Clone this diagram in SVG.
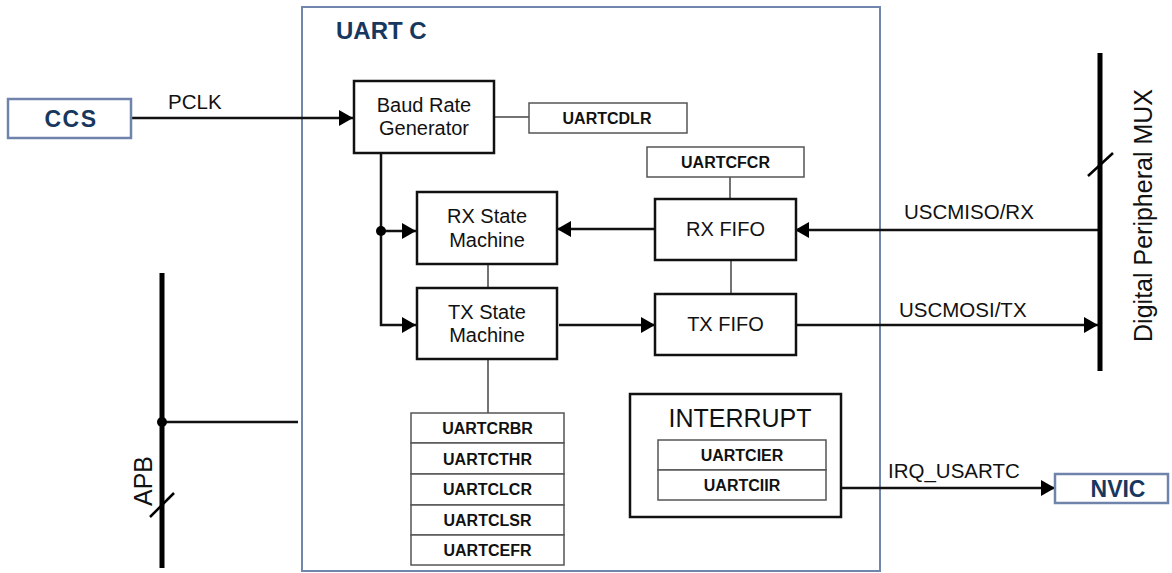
<svg xmlns="http://www.w3.org/2000/svg" width="1172" height="573" viewBox="0 0 1172 573">
<style>
.lbl{font-family:"Liberation Sans",Arial,sans-serif;font-size:20px;fill:#111}
.elb{font-family:"Liberation Sans",Arial,sans-serif;font-size:20.5px;fill:#111}
.big{font-family:"Liberation Sans",Arial,sans-serif;font-size:25px;fill:#111}
.reg{font-family:"Liberation Sans",Arial,sans-serif;font-size:16px;font-weight:bold;fill:#111}
.ext{font-family:"Liberation Sans",Arial,sans-serif;font-size:23px;font-weight:bold;fill:#17375e}
.blk{fill:#fff;stroke:#111;stroke-width:2.5}
.rbox{fill:#fff;stroke:#555;stroke-width:1.5}
.eb{fill:#fff;stroke:#6f83ab;stroke-width:2.5}
.w{fill:none;stroke:#111;stroke-width:2.5}
.thin{fill:none;stroke:#444;stroke-width:1.5}
.bus{fill:none;stroke:#000;stroke-width:5}
</style>
<defs>
<marker id="ah" markerUnits="userSpaceOnUse" markerWidth="15" markerHeight="16" refX="14" refY="8" orient="auto">
<path d="M0,0 L14,8 L0,16 z" fill="#000"/>
</marker>
</defs>
<rect width="1172" height="573" fill="#fff"/>

<g id="uartc">
<rect x="302" y="7" width="578" height="564" fill="none" stroke="#7186ad" stroke-width="2"/>
<text x="336" y="39" class="ext" style="font-size:24px">UART C</text>
</g>

<g id="connectors">
<line x1="131" y1="118" x2="353" y2="118" class="w" marker-end="url(#ah)"/>
<path d="M381,153 V325 H416" class="w" marker-end="url(#ah)"/>
<line x1="381" y1="231" x2="416" y2="231" class="w" marker-end="url(#ah)"/>
<circle cx="381" cy="231" r="5" fill="#000"/>
<line x1="655" y1="229" x2="557" y2="229" class="w" marker-end="url(#ah)"/>
<line x1="559" y1="325" x2="655" y2="325" class="w" marker-end="url(#ah)"/>
<line x1="1100" y1="230" x2="795" y2="230" class="w" marker-end="url(#ah)"/>
<line x1="795" y1="325" x2="1098" y2="325" class="w" marker-end="url(#ah)"/>
<line x1="841" y1="488" x2="1055" y2="488" class="w" marker-end="url(#ah)"/>
<line x1="494" y1="117" x2="529" y2="117" class="thin"/>
<line x1="730" y1="177" x2="730" y2="199" class="thin"/>
<line x1="731" y1="260" x2="731" y2="294" class="thin"/>
<line x1="488" y1="264" x2="488" y2="288" class="thin"/>
<line x1="488" y1="359" x2="488" y2="413" class="thin"/>
<line x1="162" y1="422" x2="298" y2="422" class="w" stroke-width="3"/>
<circle cx="162" cy="422" r="5" fill="#000"/>
<text x="168" y="109" class="elb">PCLK</text>
<text x="904" y="219" class="elb">USCMISO/RX</text>
<text x="899" y="317" class="elb">USCMOSI/TX</text>
<text x="888" y="478" class="elb">IRQ_USARTC</text>
</g>

<g id="ccs">
<rect x="8" y="99" width="123" height="39" class="eb"/>
<text x="71" y="127" class="ext" text-anchor="middle" letter-spacing="1.5">CCS</text>
</g>

<g id="nvic">
<rect x="1055" y="474" width="113" height="29" class="eb"/>
<text x="1118" y="497" class="ext" text-anchor="middle">NVIC</text>
</g>

<g id="mux">
<line x1="1100" y1="53" x2="1100" y2="371" class="bus"/>
<line x1="1088" y1="176" x2="1113" y2="153" stroke="#000" stroke-width="2.5"/>
<text transform="translate(1152,215.5) rotate(-90)" class="big" text-anchor="middle">Digital Peripheral MUX</text>
</g>

<g id="apb">
<line x1="162" y1="273" x2="162" y2="568" class="bus"/>
<line x1="150" y1="517" x2="174" y2="493" stroke="#000" stroke-width="2.5"/>
<text transform="translate(152,481) rotate(-90)" class="big" text-anchor="middle">APB</text>
</g>

<g id="baud">
<rect x="354" y="81" width="140" height="72" class="blk"/>
<text x="424" y="112" class="lbl" text-anchor="middle">Baud Rate</text>
<text x="424" y="135" class="lbl" text-anchor="middle">Generator</text>
</g>

<g id="uartcdlr">
<rect x="529" y="103" width="158" height="30" class="rbox"/>
<text x="607" y="124" class="reg" text-anchor="middle">UARTCDLR</text>
</g>

<g id="uartcfcr">
<rect x="647" y="147" width="157" height="30" class="rbox"/>
<text x="725.5" y="168" class="reg" text-anchor="middle">UARTCFCR</text>
</g>

<g id="rxsm">
<rect x="417" y="192" width="140" height="72" class="blk"/>
<text x="487" y="223" class="lbl" text-anchor="middle">RX State</text>
<text x="487" y="247" class="lbl" text-anchor="middle">Machine</text>
</g>

<g id="txsm">
<rect x="417" y="288" width="140" height="71" class="blk"/>
<text x="487" y="319" class="lbl" text-anchor="middle">TX State</text>
<text x="487" y="342" class="lbl" text-anchor="middle">Machine</text>
</g>

<g id="rxfifo">
<rect x="655" y="199" width="141" height="61" class="blk"/>
<text x="725.5" y="236" class="lbl" text-anchor="middle">RX FIFO</text>
</g>

<g id="txfifo">
<rect x="655" y="294" width="141" height="61" class="blk"/>
<text x="725.5" y="331" class="lbl" text-anchor="middle">TX FIFO</text>
</g>

<g id="regs">
<rect x="411" y="413" width="153" height="30" class="rbox"/>
<rect x="411" y="443" width="153" height="31" class="rbox"/>
<rect x="411" y="474" width="153" height="31" class="rbox"/>
<rect x="411" y="505" width="153" height="30" class="rbox"/>
<rect x="411" y="535" width="153" height="30" class="rbox"/>
<text x="487.5" y="434" class="reg" text-anchor="middle">UARTCRBR</text>
<text x="487.5" y="465" class="reg" text-anchor="middle">UARTCTHR</text>
<text x="487.5" y="495" class="reg" text-anchor="middle">UARTCLCR</text>
<text x="487.5" y="526" class="reg" text-anchor="middle">UARTCLSR</text>
<text x="487.5" y="556" class="reg" text-anchor="middle">UARTCEFR</text>
</g>

<g id="interrupt">
<rect x="630" y="394" width="211" height="123" class="blk"/>
<text x="740" y="427" class="big" text-anchor="middle">INTERRUPT</text>
<rect x="658" y="440" width="168" height="30" class="rbox"/>
<rect x="658" y="470" width="168" height="30" class="rbox"/>
<text x="742" y="461" class="reg" text-anchor="middle">UARTCIER</text>
<text x="742" y="491" class="reg" text-anchor="middle">UARTCIIR</text>
</g>
</svg>
